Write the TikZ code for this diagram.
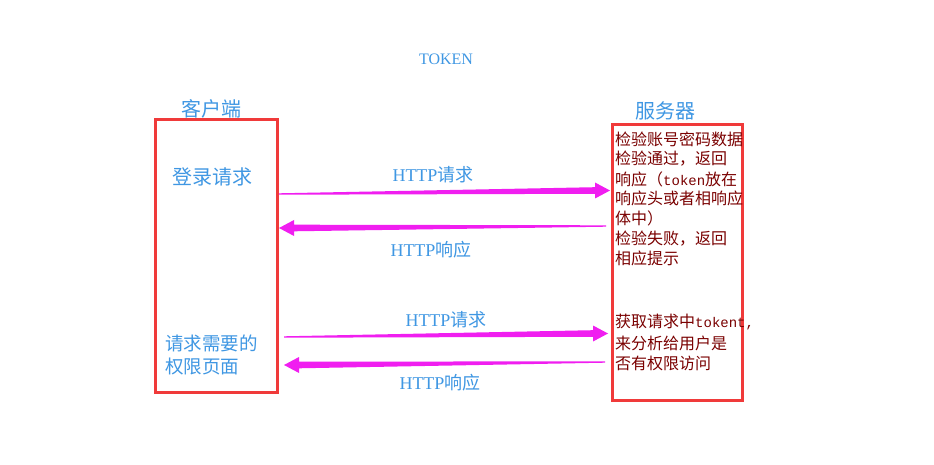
\documentclass[tikz,border=0pt]{standalone}
\usepackage{fontspec}
\setmainfont{Liberation Serif}
\newfontfamily\cjk{Noto Sans CJK SC}
\newfontfamily\monof{Liberation Mono}
\usetikzlibrary{calc}
\definecolor{boxred}{HTML}{F03A3A}
\definecolor{lblue}{HTML}{3F97E3}
\definecolor{dred}{HTML}{7A0000}
\definecolor{mag}{HTML}{F01EF0}
\tikzset{
  rbox/.style={draw=boxred, line width=3pt, inner sep=0pt},
  blab/.style={text=lblue, inner sep=0pt},
  rtxt/.style={text=dred, inner sep=0pt, anchor=west, font=\fontsize{16}{19}\selectfont\cjk},
}
\newcommand\taparrow[3]{% tail, tip, direction (1 right, -1 left)
  \fill[mag] ($(#1)+(0,-0.7)$) -- ($(#2)+(-15*#3,-3.3)$) -- ($(#2)+(-15*#3,-8)$) -- (#2)
    -- ($(#2)+(-15*#3,8)$) -- ($(#2)+(-15*#3,3.3)$) -- ($(#1)+(0,0.7)$) -- cycle;}
\begin{document}
\begin{tikzpicture}[x=1pt,y=-1pt]
\fill[white] (0,0) rectangle (934,465);
\useasboundingbox (0,0) rectangle (934,465);

\node[blab, font=\fontsize{16}{16}\selectfont] (title) at (446,59) {TOKEN};

\node[rbox, minimum width=122pt, minimum height=272pt] (client) at (216,256) {};
\node[rbox, minimum width=130pt, minimum height=275pt] (server) at (677,262.5) {};

\node[blab, font=\fontsize{20}{20}\selectfont\cjk] (clab) at (211,109) {客户端};
\node[blab, font=\fontsize{20}{20}\selectfont\cjk] (slab) at (665,111) {服务器};

\node[blab, font=\fontsize{20}{20}\selectfont\cjk] (login) at (212,177) {登录请求};
\node[blab, anchor=west, font=\fontsize{18.5}{18.5}\selectfont\cjk] (page1) at (165,343) {请求需要的};
\node[blab, anchor=west, font=\fontsize{18.5}{18.5}\selectfont\cjk] (page2) at (165,367) {权限页面};

\node[rtxt] (r1) at (615,139) {检验账号密码数据};
\node[rtxt] (r2) at (615,158.5) {检验通过，返回};
\node[rtxt] (r3) at (615,179) {响应（{\monof\fontsize{14}{14}\selectfont token}放在};
\node[rtxt] (r4) at (615,198.5) {响应头或者相响应};
\node[rtxt] (r5) at (615,218) {体中）};
\node[rtxt] (r6) at (615,239) {检验失败，返回};
\node[rtxt] (r7) at (615,258) {相应提示};
\node[rtxt] (r8) at (615,322) {获取请求中{\monof\fontsize{14}{14}\selectfont tokent,}};
\node[rtxt] (r9) at (615,343) {来分析给用户是};
\node[rtxt] (r10) at (615,363) {否有权限访问};

\coordinate (a1s) at (279,194);
\coordinate (a1e) at (610,190.5);
\coordinate (a2s) at (606,226);
\coordinate (a2e) at (279,228);
\coordinate (a3s) at (284,337);
\coordinate (a3e) at (608,333.5);
\coordinate (a4s) at (605,362);
\coordinate (a4e) at (284,365);
\taparrow{a1s}{a1e}{1}
\taparrow{a2s}{a2e}{-1}
\taparrow{a3s}{a3e}{1}
\taparrow{a4s}{a4e}{-1}

\node[blab, font=\fontsize{18}{18}\selectfont] (l1) at (433,175) {HTTP{\cjk 请求}};
\node[blab, font=\fontsize{18}{18}\selectfont] (l2) at (431,250) {HTTP{\cjk 响应}};
\node[blab, font=\fontsize{18}{18}\selectfont] (l3) at (446,320) {HTTP{\cjk 请求}};
\node[blab, font=\fontsize{18}{18}\selectfont] (l4) at (440,383) {HTTP{\cjk 响应}};
\end{tikzpicture}
\end{document}
